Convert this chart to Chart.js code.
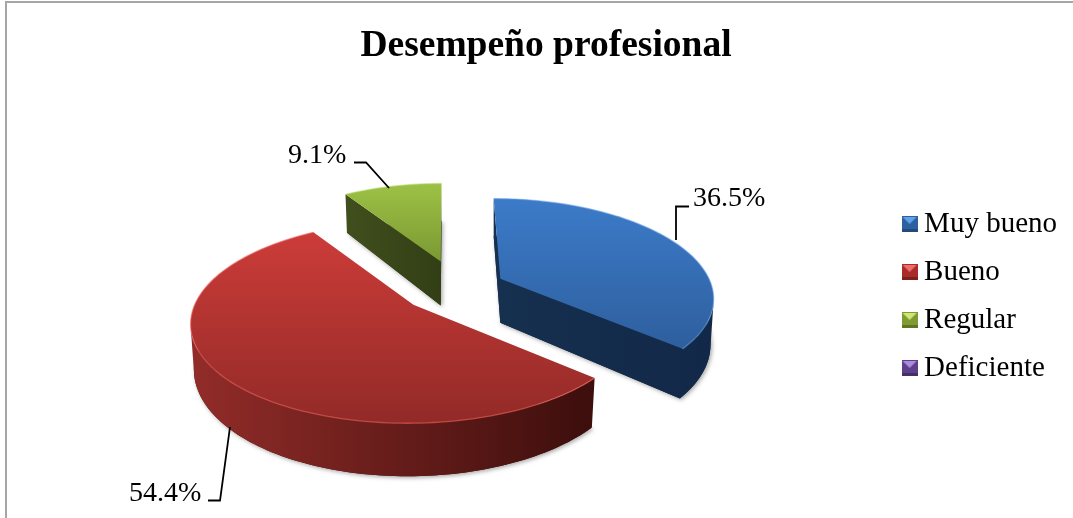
<!DOCTYPE html>
<html><head><meta charset="utf-8">
<style>html,body{margin:0;padding:0;background:#fff}canvas{display:block}</style>
<script src="https://cdn.jsdelivr.net/npm/chart.js@4"></script>
</head><body><canvas id="c" width="1073" height="518"></canvas>
<script>
const categories = ["Muy bueno","Bueno","Regular","Deficiente"];
const values = [36.5,54.4,9.1,0];
const titleText = "Desempeño profesional";
const labelTexts = ["36.5%","54.4%","9.1%"];
const explode = [0.22,0.276,0.285,0];
const topColors = [["#3c7bc9","#2e5f9e"],["#cc3c39","#922a27"],["#9dc145","#7b9933"],["#7e5bb0","#5d3f8c"]];
const sideColors = [["#16304f","#122848"],["#922c29","#3c0e0c"],["#414f1d","#323e15"],["#3d2a5c","#2c1e44"]];
const rimColors = ["rgba(110,165,230,.55)","rgba(240,100,95,.6)","rgba(190,220,110,.5)","rgba(0,0,0,0)"];
const swatch = [["#2e5f9e","#5da2ea","#224a7c"],["#a82c2a","#ec6e6a","#7e201e"],["#7f9b33","#cfe575","#5f7524"],["#5d3f8c","#ab8bdc","#452e6a"]];
const SERIF = '"Liberation Serif","Times New Roman",serif';
const TILT = 0.45, K = 0.17, DEPTH = 44, VANISH = 11;

const leaders = [
  {text:0,tx:693,ty:206,line:[[676,240],[676,206.5],[689,206.5]]},
  {text:1,tx:129,ty:501,line:[[230,427],[220,500.5],[208,500.5]]},
  {text:2,tx:288,ty:163,line:[[389,188],[366,162.5],[354,162.5]]}
];

function makeSwatch(c){
  const s=document.createElement('canvas');s.width=16;s.height=16;
  const x=s.getContext('2d');
  x.fillStyle=c[0];x.fillRect(0,0,16,16);
  x.fillStyle=c[1];x.beginPath();x.moveTo(1,1);x.lineTo(15,1);x.lineTo(8,8);x.closePath();x.fill();
  x.fillStyle=c[2];x.fillRect(0,13,16,3);
  return s;
}
const pie3d = {
  id:'pie3d',
  beforeDraw(chart){
    const g=chart.ctx;g.save();g.fillStyle='#fff';g.fillRect(0,0,chart.width,chart.height);
    g.fillStyle='#a6a6a6';g.fillRect(5,1,chart.width-5,2);g.fillRect(5,1,2,chart.height);g.restore();
  },
  beforeDatasetsDraw(chart){
    const g=chart.ctx, arcs=chart.getDatasetMeta(0).data;
    [2,0,1].forEach(i=>drawSlice(g,arcs[i],i));
    return false;
  },
  afterDraw(chart){
    const g=chart.ctx;g.save();
    g.font='28px '+SERIF;g.fillStyle='#000';g.textBaseline='alphabetic';g.textAlign='left';
    leaders.forEach(l=>{
      g.fillText(labelTexts[l.text],l.tx,l.ty);
      g.beginPath();l.line.forEach((p,j)=>j?g.lineTo(p[0],p[1]):g.moveTo(p[0],p[1]));
      g.strokeStyle='#000';g.lineWidth=1.8;g.stroke();
    });
    g.restore();
  }
};
function drawSlice(g,a,i){
  const p=a.getProps(['x','y','startAngle','endAngle','outerRadius'],true);
  if(p.endAngle-p.startAngle<1e-4) return;
  const mid=(p.startAngle+p.endAngle)/2, RX=p.outerRadius, RY=RX*TILT, e=explode[i];
  const ax=p.x+RX*e*Math.cos(mid), ay=p.y+RY*e*Math.sin(mid);
  const s=1/(1-K*e*Math.sin(mid));
  const SH=(ax-p.x+VANISH)*0.145;
  const P=(u,v,z)=>{const w=1-K*v;return [ax+(RX*s*u*(1-0.015*z)+SH*v)/w, ay+(RY*s*v+DEPTH*z)/w];};
  const n=Math.max(8,Math.round((p.endAngle-p.startAngle)*40));
  const ang=[];for(let j=0;j<=n;j++)ang.push(p.startAngle+(p.endAngle-p.startAngle)*j/n);
  const ring=z=>ang.map(t=>P(Math.cos(t),Math.sin(t),z));
  const top=ring(0),bot=ring(1),A0=P(0,0,0),A1=P(0,0,1);
  const area=q=>{let r=0;q.forEach((m,j)=>{const o=q[(j+1)%q.length];r+=m[0]*o[1]-o[0]*m[1];});return r;};
  const quads=[];
  for(let j=0;j<n;j++){const q=[top[j],bot[j],bot[j+1],top[j+1]];if(area(q)>0)quads.push(q);}
  const face1=[A0,A1,bot[0],top[0]], face2=[top[n],bot[n],A1,A0];
  if(area(face1)>0)quads.push(face1);
  if(area(face2)>0)quads.push(face2);
  const all=top.concat(bot,[A0,A1]);
  const xs=all.map(m=>m[0]),ys=top.concat([A0]).map(m=>m[1]);
  const x0=Math.min(...xs),x1=Math.max(...xs),y0=Math.min(...ys),y1=Math.max(...ys);
  const poly=q=>{q.forEach((m,j)=>j?g.lineTo(m[0],m[1]):g.moveTo(m[0],m[1]));g.closePath();};
  g.save();
  // soft shadow
  g.save();g.shadowColor='rgba(90,90,90,.55)';g.shadowBlur=4;g.shadowOffsetX=1.5;g.shadowOffsetY=1.5;
  g.fillStyle=sideColors[i][1];g.beginPath();poly([A1].concat(bot));g.fill();g.restore();
  // sides, as one path so no seams appear between the strips
  const sg=g.createLinearGradient(x0,0,x1,0);sg.addColorStop(0,sideColors[i][0]);sg.addColorStop(1,sideColors[i][1]);
  g.fillStyle=sg;g.beginPath();quads.forEach(q=>poly(q));g.fill();
  // top
  const tg=g.createLinearGradient(0,y0,0,y1);tg.addColorStop(0,topColors[i][0]);tg.addColorStop(1,topColors[i][1]);
  g.fillStyle=tg;g.beginPath();poly([A0].concat(top));g.fill();
  g.strokeStyle=rimColors[i];g.lineWidth=1.3;g.beginPath();
  top.forEach((m,j)=>j?g.lineTo(m[0],m[1]):g.moveTo(m[0],m[1]));g.stroke();
  g.restore();
}
new Chart(document.getElementById('c'),{
  type:'pie',
  data:{labels:categories,datasets:[{data:values,backgroundColor:swatch.map(c=>c[0]),borderWidth:0}]},
  plugins:[pie3d],
  options:{
    responsive:false,animation:false,
    radius:212,
    layout:{padding:{left:25,right:6,top:0,bottom:29}},
    plugins:{
      tooltip:{enabled:false},
      title:{display:true,text:titleText,color:'#000',font:{family:SERIF,size:37.5,weight:'bold'},padding:{top:24,bottom:17}},
      legend:{position:'right',fullSize:false,
        title:{display:true,text:'',font:{size:8,lineHeight:1},padding:4.5},
        labels:{
        color:'#000',font:{family:SERIF,size:29},padding:19,usePointStyle:true,pointStyleWidth:0.01,
        generateLabels(){return categories.map((t,i)=>({text:t,pointStyle:makeSwatch(swatch[i]),fillStyle:swatch[i][0],strokeStyle:swatch[i][0],lineWidth:0,hidden:false,index:i,fontColor:'#000'}));}
      }}
    }
  }
});
</script></body></html>
